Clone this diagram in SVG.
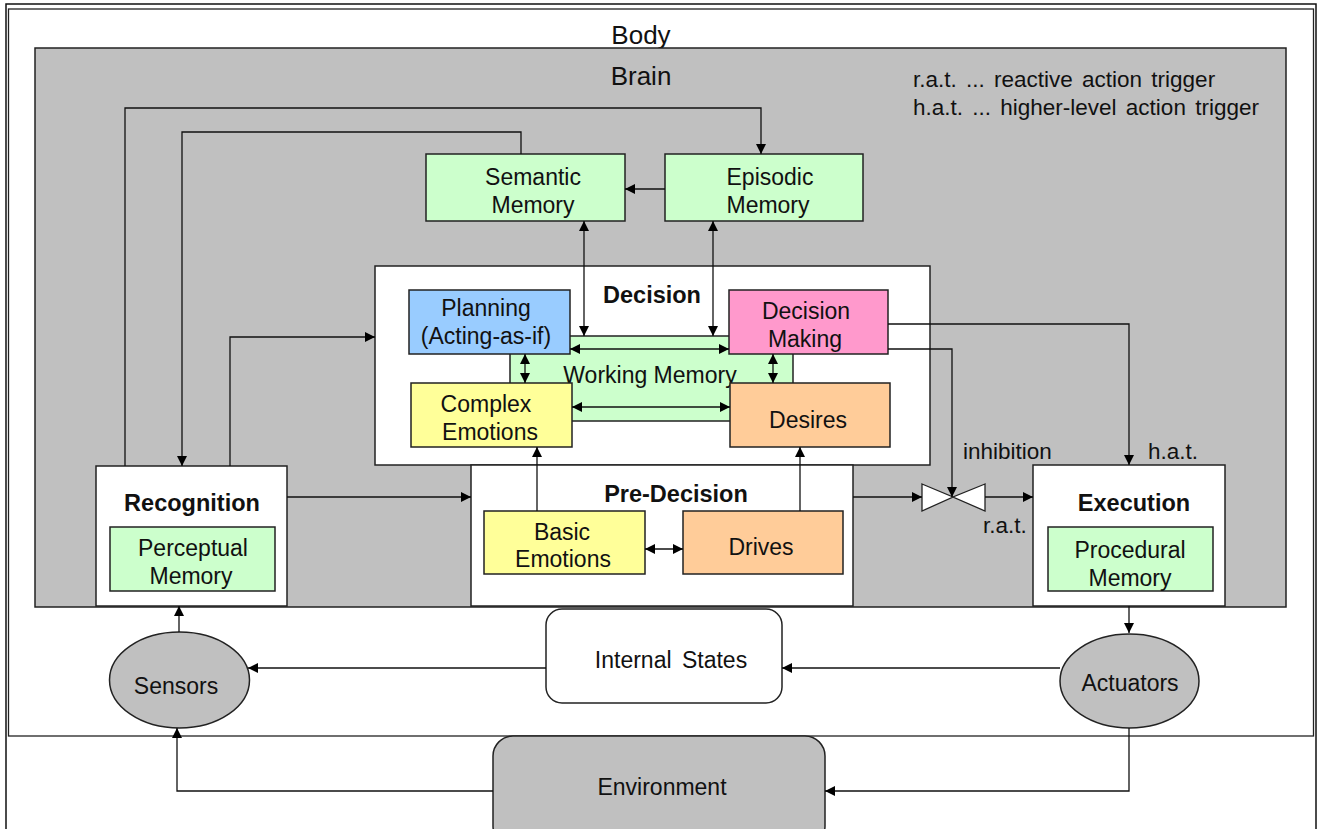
<svg xmlns="http://www.w3.org/2000/svg" width="1318" height="829" viewBox="0 0 1318 829">
<defs>
<marker id="ah" viewBox="0 0 10 10" refX="10" refY="5" markerWidth="10" markerHeight="10" markerUnits="userSpaceOnUse" orient="auto-start-reverse">
<path d="M0,0 L10,5 L0,10 z" fill="#000"/>
</marker>
<style>
text{font-family:"Liberation Sans",Arial,sans-serif;fill:#111;}
.t{font-size:23px;text-anchor:middle;}
.b{font-size:23.5px;font-weight:bold;text-anchor:middle;}
.l{font-size:22.5px;}
.box{stroke:#222;stroke-width:1.5;}
.c path,.c line{fill:none;stroke:#111;stroke-width:1.3;}
.one{marker-end:url(#ah);}
.two{marker-start:url(#ah);marker-end:url(#ah);}
</style>
</defs>
<rect width="1318" height="829" fill="#fff"/>
<g id="frame">
<path d="M6,829 V4 H1316 V829" fill="none" stroke="#111" stroke-width="1.5"/>
<rect x="8.5" y="9" width="1305" height="727" fill="#fff" stroke="#222" stroke-width="1.3"/>
<text class="t" x="641" y="44" style="font-size:26px">Body</text>
</g>
<g id="brain">
<rect class="box" x="35" y="48" width="1251" height="559" fill="#c0c0c0"/>
<text class="t" x="641" y="85" style="font-size:26px">Brain</text>
<text class="l" x="913" y="87" style="word-spacing:3px">r.a.t.  ... reactive action trigger</text>
<text class="l" x="913" y="115" style="word-spacing:3px">h.a.t.  ... higher-level action trigger</text>
</g>
<g id="decision">
<rect class="box" x="375" y="266" width="555" height="199" fill="#fff"/>
<text class="b" x="652" y="303">Decision</text>
</g>
<g id="working-memory">
<rect class="box" x="510" y="336" width="283" height="85" fill="#ccffcc"/>
<text class="t" x="650" y="383">Working Memory</text>
</g>
<g id="semantic">
<rect class="box" x="426" y="154" width="199" height="67" fill="#ccffcc"/>
<text class="t" x="533" y="185">Semantic</text>
<text class="t" x="533" y="213">Memory</text>
</g>
<g id="episodic">
<rect class="box" x="665" y="154" width="198" height="67" fill="#ccffcc"/>
<text class="t" x="770" y="185">Episodic</text>
<text class="t" x="768" y="213">Memory</text>
</g>
<g id="planning">
<rect class="box" x="409" y="290" width="161" height="64" fill="#99ccff"/>
<text class="t" x="486" y="316">Planning</text>
<text class="t" x="486" y="344">(Acting-as-if)</text>
</g>
<g id="decision-making">
<rect class="box" x="729" y="290" width="159" height="64" fill="#ff99cc"/>
<text class="t" x="806" y="319">Decision</text>
<text class="t" x="805" y="347">Making</text>
</g>
<g id="complex-emotions">
<rect class="box" x="411" y="383" width="161" height="64" fill="#ffff99"/>
<text class="t" x="486" y="412">Complex</text>
<text class="t" x="490" y="440">Emotions</text>
</g>
<g id="desires">
<rect class="box" x="730" y="383" width="160" height="64" fill="#ffcc99"/>
<text class="t" x="808" y="428">Desires</text>
</g>
<g id="recognition">
<rect class="box" x="96" y="466" width="191" height="140" fill="#fff"/>
<text class="b" x="192" y="511">Recognition</text>
<rect class="box" x="110" y="527" width="165" height="64" fill="#ccffcc"/>
<text class="t" x="193" y="556">Perceptual</text>
<text class="t" x="191" y="584">Memory</text>
</g>
<g id="pre-decision">
<rect class="box" x="471" y="465" width="382" height="141" fill="#fff"/>
<text class="b" x="676" y="502">Pre-Decision</text>
</g>
<g id="basic-emotions">
<rect class="box" x="484" y="511" width="161" height="63" fill="#ffff99"/>
<text class="t" x="562" y="540">Basic</text>
<text class="t" x="563" y="567">Emotions</text>
</g>
<g id="drives">
<rect class="box" x="683" y="511" width="160" height="63" fill="#ffcc99"/>
<text class="t" x="761" y="555">Drives</text>
</g>
<g id="execution">
<rect class="box" x="1033" y="465" width="192" height="141" fill="#fff"/>
<text class="b" x="1134" y="511">Execution</text>
<rect class="box" x="1048" y="527" width="165" height="64" fill="#ccffcc"/>
<text class="t" x="1130" y="558">Procedural</text>
<text class="t" x="1130" y="586">Memory</text>
</g>
<g id="valve">
<path d="M922,484 L953,497 L922,511 z M985,484 L953,497 L985,511 z" fill="#fff" stroke="#222" stroke-width="1.3"/>
</g>
<g id="labels">
<text class="l" x="963" y="459">inhibition</text>
<text class="l" x="1148" y="459">h.a.t.</text>
<text class="l" x="983" y="533">r.a.t.</text>
</g>
<g id="internal-states">
<rect class="box" x="546" y="609" width="236" height="94" rx="16" fill="#fff"/>
<text class="t" x="671" y="668" style="word-spacing:4px">Internal States</text>
</g>
<g id="sensors">
<ellipse class="box" cx="179.5" cy="680" rx="70" ry="48" fill="#c0c0c0"/>
<text class="t" x="176" y="694">Sensors</text>
</g>
<g id="actuators">
<ellipse class="box" cx="1129.5" cy="681" rx="69.5" ry="47" fill="#c0c0c0"/>
<text class="t" x="1130" y="691">Actuators</text>
</g>
<g id="environment">
<rect class="box" x="493" y="736" width="332" height="110" rx="20" fill="#c0c0c0"/>
<text class="t" x="662" y="795">Environment</text>
</g>
<g id="connectors" class="c">
<path class="one" d="M125,466 V108 H761 V154"/>
<path class="one" d="M521,154 V132 H182 V466"/>
<path class="one" d="M230,466 V337 H375"/>
<path class="one" d="M287,497 H471"/>
<path class="one" d="M665,189 H625"/>
<path class="two" d="M584,221 V336"/>
<path class="two" d="M713,221 V336"/>
<path class="two" d="M570,349 H729"/>
<path class="two" d="M572,407 H730"/>
<path class="two" d="M525,354 V383"/>
<path class="two" d="M773,354 V383"/>
<path class="one" d="M537,511 V447"/>
<path class="one" d="M800,511 V447"/>
<path class="two" d="M645,549 H683"/>
<path class="one" d="M853,497 H922"/>
<path class="one" d="M985,497 H1033"/>
<path class="one" d="M888,349 H952 V497"/>
<path class="one" d="M888,324 H1129 V465"/>
<path class="one" d="M1129,606 V633"/>
<path class="one" d="M1060,668 H782"/>
<path class="one" d="M546,668 H248"/>
<path class="one" d="M179,632 V606"/>
<path class="one" d="M1129,728 V791 H825"/>
<path class="one" d="M493,791 H177 V728"/>
</g>
</svg>
